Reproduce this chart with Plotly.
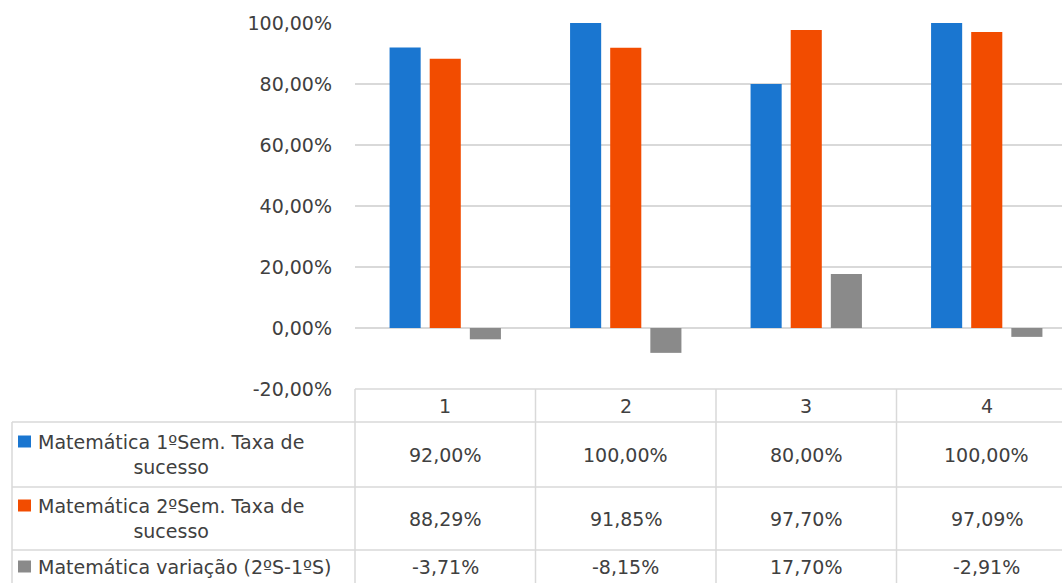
import plotly.graph_objects as go

# Data
categories = ["1", "2", "3", "4"]
series_names = [
    "Matemática 1ºSem. Taxa de<br>sucesso",
    "Matemática 2ºSem. Taxa de<br>sucesso",
    "Matemática variação (2ºS-1ºS)",
]
sem1 = [0.92, 1.00, 0.80, 1.00]
sem2 = [0.8829, 0.9185, 0.9770, 0.9709]
variacao = [-0.0371, -0.0815, 0.1770, -0.0291]
y_tick_vals = [-0.2, 0.0, 0.2, 0.4, 0.6, 0.8, 1.0]
y_tick_text = ["-20,00%", "0,00%", "20,00%", "40,00%", "60,00%", "80,00%", "100,00%"]
colors = ["#1A76D0", "#F24C00", "#8A8A8A"]

W, H = 1062, 583
FONT = "DejaVu Sans"
FS = 19
TXT = "#404040"
LINE = "#D9D9D9"


def px(x):
    return x / W


def py(y):
    return 1 - y / H


xs = list(range(1, len(categories) + 1))
fig = go.Figure()
for name, vals, col in zip(series_names, [sem1, sem2, variacao], colors):
    fig.add_trace(go.Bar(x=xs, y=vals, name=name, marker_color=col,
                         marker_line_width=0))

# Plot area geometry (pixels)
plot_left, plot_top, plot_bottom = 355, 23, 389
col_w = 180.5
x_max = 0.5 + (W - plot_left) / col_w

fig.update_layout(
    template="none",
    width=W, height=H,
    margin=dict(l=0, r=0, t=0, b=0, pad=0),
    paper_bgcolor="white", plot_bgcolor="white",
    barmode="group", bargap=0.333, bargroupgap=0.225,
    showlegend=False,
    font=dict(family=FONT, size=FS, color=TXT),
    xaxis=dict(domain=[px(plot_left), 1], range=[0.5, x_max],
               automargin=False,
               showticklabels=False, showgrid=False, zeroline=False,
               showline=False, ticks="", fixedrange=True),
    yaxis=dict(domain=[py(plot_bottom), py(plot_top)], range=[-0.2, 1.0],
               automargin=False,
               tickmode="array", tickvals=y_tick_vals, ticktext=y_tick_text,
               showgrid=True, gridcolor=LINE, gridwidth=1.5,
               zeroline=True, zerolinecolor=LINE, zerolinewidth=1.5,
               showline=False, ticks="", ticklabelstandoff=22,
               tickfont=dict(family=FONT, size=FS, color=TXT)),
)

shapes = []
annotations = []


def hline(x0, x1, y):
    shapes.append(dict(type="line", xref="paper", yref="paper",
                       x0=px(x0), x1=px(x1), y0=py(y), y1=py(y),
                       line=dict(color=LINE, width=1.5)))


def vline(x, y0, y1):
    shapes.append(dict(type="line", xref="paper", yref="paper",
                       x0=px(x), x1=px(x), y0=py(y0), y1=py(y1),
                       line=dict(color=LINE, width=1.5)))


# Data table below the plot
header_top, header_bot = 389, 422
row_bounds = [422, 487, 550, 583]
table_left = 12
col_edges = [plot_left + i * col_w for i in range(len(categories) + 1)]

hline(plot_left, W, header_top)
for y in row_bounds[:-1]:
    hline(table_left, W, y)
vline(table_left, row_bounds[0], row_bounds[-1])
for x in col_edges:
    if x < W:
        vline(x, header_top, row_bounds[-1])

# Category header
for i, c in enumerate(categories):
    annotations.append(dict(xref="paper", yref="paper",
                            x=px(col_edges[i] + col_w / 2),
                            y=py((header_top + header_bot) / 2),
                            text=c, showarrow=False,
                            xanchor="center", yanchor="middle"))


def fmt(v):
    return f"{v * 100:.2f}%".replace(".", ",")


for r, (name, vals, col) in enumerate(zip(series_names, [sem1, sem2, variacao], colors)):
    y0, y1 = row_bounds[r], row_bounds[r + 1]
    yc = (y0 + y1) / 2
    two_line = "<br>" in name
    # series key
    key_y = yc - 13 if two_line else yc
    shapes.append(dict(type="rect", xref="paper", yref="paper",
                       x0=px(18), x1=px(31), y0=py(key_y - 6), y1=py(key_y + 6),
                       fillcolor=col, line=dict(width=0)))
    annotations.append(dict(xref="paper", yref="paper",
                            x=px(36), y=py(yc), text=name, showarrow=False,
                            xanchor="left", yanchor="middle", align="center"))
    for i, v in enumerate(vals):
        annotations.append(dict(xref="paper", yref="paper",
                                x=px(col_edges[i] + col_w / 2), y=py(yc),
                                text=fmt(v), showarrow=False,
                                xanchor="center", yanchor="middle"))

fig.update_layout(shapes=shapes, annotations=annotations)
fig.write_html("out.html")
